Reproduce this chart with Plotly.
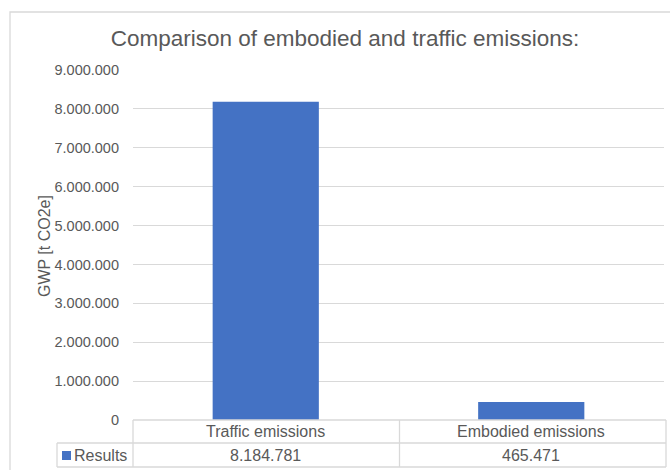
import plotly.graph_objects as go

categories = ["Traffic emissions", "Embodied emissions"]
values = [8184781, 465471]
series_name = "Results"
title_text = "Comparison of embodied and traffic emissions:"
y_title = "GWP [t CO2e]"

W, H = 670, 470
L, R, T, B = 133, 664, 70, 420  # plot area pixel bounds
BAR = "#4472C4"
GRID = "#d9d9d9"
TXT = "#595959"
FONT = "Liberation Sans, Arial, sans-serif"


def px_x(p):
    return (p - L) / (R - L)


def px_y(p):
    return (B - p) / (B - T)


def fmt(v):
    return f"{v:,}".replace(",", ".")


fig = go.Figure()
fig.add_trace(go.Bar(x=categories, y=values, name=series_name,
                     marker=dict(color=BAR, line=dict(width=0)),
                     showlegend=False, hoverinfo="skip"))

shapes = []
# outer chart border (cut off at right/bottom)
shapes.append(dict(type="rect", xref="paper", yref="paper",
                   x0=px_x(10), x1=px_x(700), y0=px_y(500), y1=px_y(12),
                   line=dict(color=GRID, width=1.3), layer="below"))
line = dict(color=GRID, width=1.3)
row1_top, row1_bot, row2_bot = 420, 443, 467
left_col = 57
# header row
shapes.append(dict(type="line", xref="paper", yref="paper", x0=0, x1=px_x(666), y0=px_y(row1_top), y1=px_y(row1_top), line=line))
shapes.append(dict(type="line", xref="paper", yref="paper", x0=px_x(left_col), x1=px_x(666), y0=px_y(row1_bot), y1=px_y(row1_bot), line=line))
shapes.append(dict(type="line", xref="paper", yref="paper", x0=px_x(left_col), x1=px_x(666), y0=px_y(row2_bot), y1=px_y(row2_bot), line=line))
# verticals
shapes.append(dict(type="line", xref="paper", yref="paper", x0=px_x(left_col), x1=px_x(left_col), y0=px_y(row1_bot), y1=px_y(row2_bot), line=line))
for xp in [L, (L + 666) / 2, 666]:
    shapes.append(dict(type="line", xref="paper", yref="paper", x0=px_x(xp), x1=px_x(xp), y0=px_y(row1_top), y1=px_y(row2_bot), line=line))
# legend key square
shapes.append(dict(type="rect", xref="paper", yref="paper", x0=px_x(62), x1=px_x(71), y0=px_y(460), y1=px_y(451),
                   fillcolor=BAR, line=dict(width=0)))

TBL = 16
annotations = []
for c, v in zip(categories, values):
    annotations.append(dict(x=c, xref="x", y=px_y((row1_top + row1_bot) / 2), yref="paper",
                            text=c, showarrow=False, font=dict(size=TBL, color=TXT, family=FONT),
                            xanchor="center", yanchor="middle"))
    annotations.append(dict(x=c, xref="x", y=px_y((row1_bot + row2_bot) / 2), yref="paper",
                            text=fmt(v), showarrow=False, font=dict(size=TBL, color=TXT, family=FONT),
                            xanchor="center", yanchor="middle"))
annotations.append(dict(x=px_x(72), xref="paper", y=px_y((row1_bot + row2_bot) / 2), yref="paper",
                        text=series_name, showarrow=False, font=dict(size=TBL, color=TXT, family=FONT),
                        xanchor="left", yanchor="middle"))
annotations.append(dict(x=px_x(44), xref="paper", y=px_y(246), yref="paper", text=y_title, textangle=-90,
                        showarrow=False, font=dict(size=16, color=TXT, family=FONT),
                        xanchor="center", yanchor="middle"))

fig.update_layout(
    width=W, height=H,
    margin=dict(l=L, r=W - R, t=T, b=H - B, pad=0),
    paper_bgcolor="white", plot_bgcolor="white",
    separators=",.",
    bargap=0.6,
    title=dict(text=title_text, x=345 / W, xanchor="center", y=1 - 38 / H, yanchor="middle",
               yref="container", font=dict(size=22.5, color=TXT, family=FONT)),
    xaxis=dict(showticklabels=False, showgrid=False, zeroline=False, showline=False,
               ticks="", range=[-0.5, 1.5], fixedrange=True),
    yaxis=dict(range=[0, 9000000], dtick=1000000, tickformat=",d", showgrid=True,
               gridcolor=GRID, gridwidth=1.3, zeroline=False, showline=False, ticks="",
               ticklabelstandoff=13,
               tickfont=dict(size=14.5, color=TXT, family=FONT), fixedrange=True),
    shapes=shapes, annotations=annotations,
    font=dict(family=FONT, color=TXT),
)

fig.write_html("out.html", config={"displayModeBar": False},
               post_script="document.body.style.margin='0';")
